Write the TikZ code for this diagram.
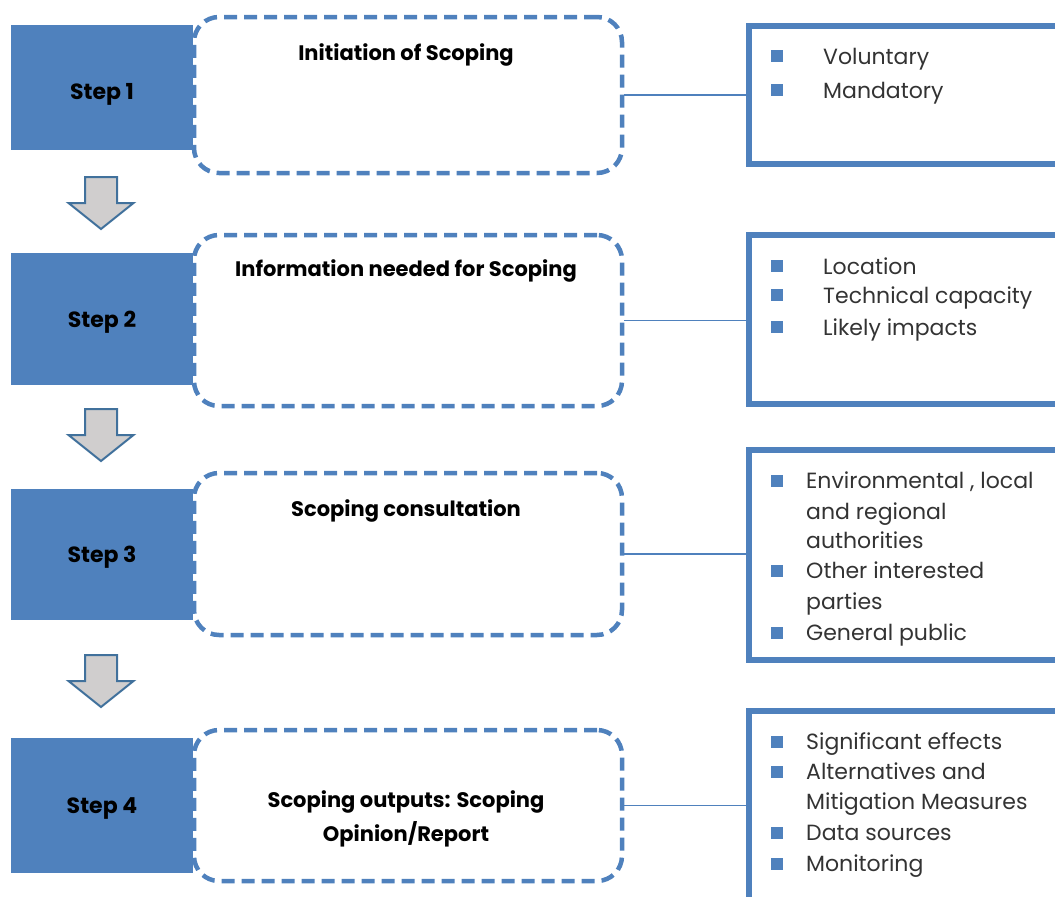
\documentclass[tikz,border=0pt]{standalone}
\usepackage{fontspec}
\setmainfont{Poppins}
\definecolor{stepblue}{HTML}{4F81BD}
\definecolor{arrowgray}{HTML}{D0CECE}
\definecolor{arrowedge}{HTML}{41719C}
\definecolor{listtext}{HTML}{333333}
\begin{document}
\begin{tikzpicture}[x=1pt,y=-1pt,
  stepbox/.style={fill=stepblue, draw=none, minimum width=182pt, inner sep=0pt,
    font=\fontsize{22}{26}\selectfont\bfseries, text=black},
  phasebox/.style={draw=stepblue, line width=4.5pt, dash pattern=on 13pt off 7pt,
    rounded corners=25pt, fill=white, minimum width=428pt, inner sep=0pt},
  title/.style={anchor=base, font=\fontsize{21}{25}\selectfont\bfseries, text=black, inner sep=0pt},
  listbox/.style={draw=stepblue, line width=6pt, minimum width=330pt, anchor=west,
    outer sep=0pt, inner sep=0pt},
  link/.style={draw=stepblue, line width=1.8pt},
  bulletsq/.style={fill=stepblue, minimum size=12pt, inner sep=0pt},
  entry/.style={anchor=base west, font=\fontsize{22}{26}\selectfont, text=listtext, inner sep=0pt},
  flow/.style={fill=arrowgray, draw=arrowedge, line width=2pt, line join=miter},
]
\useasboundingbox (0,0) rectangle (1055,897);
\clip (0,0) rectangle (1055,897);

% step blocks (label baseline set below the block centre)
\node[stepbox, minimum height=125pt] (s1) at (102,87.5) {\raisebox{-12pt}[0pt][0pt]{Step 1}};
\node[stepbox, minimum height=132pt] (s2) at (102,319) {\raisebox{-8pt}[0pt][0pt]{Step 2}};
\node[stepbox, minimum height=131pt] (s3) at (102,554.5) {\raisebox{-8pt}[0pt][0pt]{Step 3}};
\node[stepbox, minimum height=135pt] (s4) at (102,805.5) {\raisebox{-8pt}[0pt][0pt]{Step 4}};

% dashed phase boxes
\node[phasebox, minimum height=156pt] (d1) at (408,95) {};
\node[phasebox, minimum height=171pt] (d2) at (408,320.5) {};
\node[phasebox, minimum height=162pt] (d3) at (408,554) {};
\node[phasebox, minimum height=151pt] (d4) at (408,805.5) {};

\node[title] (t1) at (406,60) {Initiation of Scoping};
\node[title] (t2) at (406,276) {Information needed for Scoping};
\node[title] (t3) at (406,516) {Scoping consultation};
\node[title] (t4a) at (406,807) {Scoping outputs: Scoping};
\node[title] (t4b) at (406,841) {Opinion/Report};

% down arrows between steps
\foreach \ytop in {177,409,655}
  \draw[flow] (85,\ytop) -- ++(32,0) -- ++(0,26) -- ++(16.5,0) -- ++(-32.5,26)
    -- ++(-32.5,-26) -- ++(16.5,0) -- cycle;

% detail boxes
\node[listbox, minimum height=138pt] (r1) at (749,95) {};
\node[listbox, minimum height=169pt] (r2) at (749,319.5) {};
\node[listbox, minimum height=210pt] (r3) at (749,555) {};
\node[listbox, minimum height=194pt] (r4) at (749,808) {};

% links
\draw[link] (d1.east) -- (d1.east -| r1.west);
\draw[link] (d2.east) -- (d2.east -| r2.west);
\draw[link] (d3.east) -- (d3.east -| r3.west);
\draw[link] (d4.east) -- (d4.east -| r4.west);

% list 1
\node[bulletsq] (b11) at (777,56) {};
\node[entry] (e11) at (823,64) {Voluntary};
\node[bulletsq] (b12) at (777,90) {};
\node[entry] (e12) at (823,98) {Mandatory};

% list 2
\node[bulletsq] (b21) at (777,266) {};
\node[entry] (e21) at (823,274) {Location};
\node[bulletsq] (b22) at (777,295) {};
\node[entry] (e22) at (823,303) {Technical capacity};
\node[bulletsq] (b23) at (777,327) {};
\node[entry] (e23) at (823,335) {Likely impacts};

% list 3
\node[bulletsq] (b31) at (777,481) {};
\node[entry] (e31) at (806,488) {Environmental , local};
\node[entry] (e32) at (806,519) {and regional};
\node[entry] (e33) at (806,548) {authorities};
\node[bulletsq] (b32) at (777,571) {};
\node[entry] (e34) at (806,578) {Other interested};
\node[entry] (e35) at (806,609) {parties};
\node[bulletsq] (b33) at (777,633) {};
\node[entry] (e36) at (806,640) {General public};

% list 4
\node[bulletsq] (b41) at (777,742) {};
\node[entry] (e41) at (806,749) {Significant effects};
\node[bulletsq] (b42) at (777,772) {};
\node[entry] (e42) at (806,779) {Alternatives and};
\node[entry] (e43) at (806,809) {Mitigation Measures};
\node[bulletsq] (b43) at (777,833) {};
\node[entry] (e44) at (806,840) {Data sources};
\node[bulletsq] (b44) at (777,864) {};
\node[entry] (e45) at (806,871) {Monitoring};
\end{tikzpicture}
\end{document}
